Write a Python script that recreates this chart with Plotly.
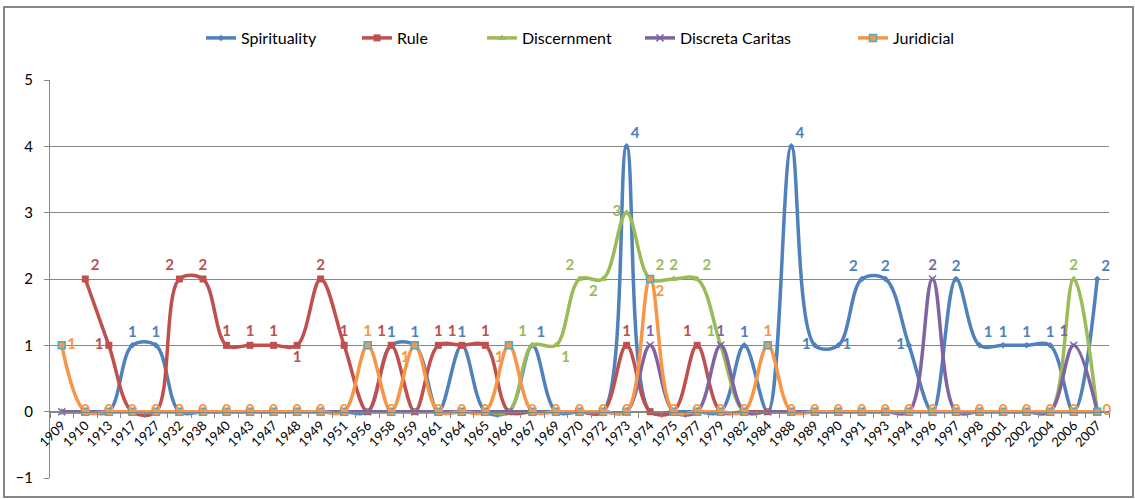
import plotly.graph_objects as go

years = ["1909","1910","1913","1917","1927","1932","1938","1940","1943","1947","1948","1949",
         "1951","1956","1958","1959","1961","1964","1965","1966","1967","1969","1970","1972",
         "1973","1974","1975","1977","1979","1982","1984","1988","1989","1990","1991","1993",
         "1994","1996","1997","1998","2001","2002","2004","2006","2007"]

spirituality = [0,0,0,1,1,0,0,0,0,0,0,0,
                0,0,1,1,0,1,0,0,1,0,0,0,
                4,0,0,0,0,1,0,4,1,1,2,2,
                1,0,2,1,1,1,1,0,2]
rule = [None,2,1,0,0,2,2,1,1,1,1,2,
        1,0,1,0,1,1,1,0,0,0,0,0,
        1,0,0,1,0,0,0,0,0,0,0,0,
        0,0,0,0,0,0,0,0,0]
discernment = [0,0,0,0,0,0,0,0,0,0,0,0,
               0,0,0,0,0,0,0,0,1,1,2,2,
               3,2,2,2,1,0,0,0,0,0,0,0,
               0,0,0,0,0,0,0,2,0]
discreta = [0,0,0,0,0,0,0,0,0,0,0,0,
            0,0,0,0,0,0,0,0,0,0,0,0,
            0,1,0,0,1,0,0,0,0,0,0,0,
            0,2,0,0,0,0,0,1,0]
juridicial = [1,0,0,0,0,0,0,0,0,0,0,0,
              0,1,0,1,0,0,0,1,0,0,0,0,
              0,2,0,0,0,0,1,0,0,0,0,0,
              0,0,0,0,0,0,0,0,0]

BLUE, RED, GREEN, PURPLE, ORANGE, CYAN = "#4F81BD", "#C0504D", "#9BBB59", "#8064A2", "#F79646", "#4BACC6"

# label positions (per year) for non-zero points
pos_spi = {"1917": "top center", "1927": "top center", "1958": "top center", "1959": "top center",
           "1964": "top center", "1967": "top right", "1973": "top right", "1982": "top center",
           "1988": "top right", "1989": "middle left", "1990": "middle right", "1991": "top left",
           "1993": "top center", "1994": "middle left", "1997": "top center", "1998": "top right",
           "2001": "top center", "2002": "top center", "2004": "top center", "2007": "top right"}
pos_rule = {"1910": "top right", "1913": "middle left", "1932": "top left", "1938": "top center",
            "1940": "top center", "1943": "top center", "1947": "top center", "1948": "bottom center",
            "1949": "top center", "1951": "top center", "1958": "top left", "1961": "top center",
            "1964": "top left", "1965": "top center", "1973": "top center", "1977": "top left"}
pos_dis = {"1967": "top left", "1969": "bottom right", "1970": "top left", "1972": "bottom left",
           "1973": "middle left", "1974": "top right", "1975": "top center", "1977": "top right",
           "1979": "top left", "2006": "top center"}
pos_dc = {"1974": "top center", "1979": "top center", "1996": "top center", "2006": "top left"}
pos_jur = {"1909": "middle right", "1956": "top center", "1959": "bottom left", "1966": "bottom left",
           "1974": "bottom right", "1984": "top center"}


def labels(vals, posmap, show_zero=False):
    texts, poss = [], []
    for y, v in zip(years, vals):
        if v is None or (v == 0 and not show_zero):
            texts.append("")
            poss.append("top center")
        else:
            texts.append(str(v))
            poss.append(posmap.get(y, "middle center"))
    return texts, poss


# plot-area geometry in pixels
L, R, T, B = 50, 1109, 80, 478
W, H = R - L, B - T

fig = go.Figure()

series = [
    ("Spirituality", spirituality, BLUE, dict(symbol="diamond", size=5, color=BLUE), pos_spi, False, 205),
    ("Rule", rule, RED, dict(symbol="square", size=7, color=RED), pos_rule, False, 361),
    ("Discernment", discernment, GREEN, dict(symbol="triangle-up", size=7, color=GREEN), pos_dis, False, 486),
    ("Discreta Caritas", discreta, PURPLE, dict(symbol="x-thin", size=7, color=PURPLE,
                                                line=dict(color=PURPLE, width=1.5)), pos_dc, False, 644),
    ("Juridicial", juridicial, ORANGE, dict(symbol="square", size=7, color=ORANGE,
                                            line=dict(color=CYAN, width=1.5)), pos_jur, True, 857),
]

legend_layout = {}
for i, (name, vals, color, marker, pmap, zero, lx) in enumerate(series):
    t, p = labels(vals, pmap, zero)
    if name == "Juridicial":
        p[-1] = "middle right"
    lname = "legend" if i == 0 else f"legend{i + 1}"
    fig.add_trace(go.Scatter(
        x=years, y=vals, name=name, mode="lines+markers+text",
        line=dict(color=color, width=3.5, shape="spline", smoothing=1),
        marker=marker, text=t, textposition=p,
        textfont=dict(family="Lato", size=15, color=color, weight="bold"),
        connectgaps=False, cliponaxis=False, legend=lname,
    ))
    legend_layout[lname] = dict(
        orientation="h", x=(lx - L - 4) / W, xanchor="left",
        y=(B - 38) / H, yanchor="middle",
        font=dict(size=16, family="Lato"), itemwidth=30,
        bgcolor="rgba(0,0,0,0)",
    )

fig.update_layout(
    width=1135, height=499,
    margin=dict(l=L, r=1135 - R, t=T, b=499 - B),
    paper_bgcolor="white", plot_bgcolor="white",
    font=dict(family="Lato", color="#000000"),
    showlegend=True,
    **legend_layout,
)
fig.update_xaxes(
    type="category", categoryorder="array", categoryarray=years,
    range=[-0.5, len(years) - 0.5],
    anchor="free", position=1 / 6,
    showline=True, linecolor="#868686", linewidth=1,
    ticks="outside", tickson="boundaries", ticklen=5, tickcolor="#868686",
    tickangle=-45, tickfont=dict(size=13, family="Lato"),
    showgrid=False, zeroline=False,
)
fig.update_yaxes(
    range=[-1, 5], dtick=1, tick0=0,
    showline=True, linecolor="#868686", linewidth=1,
    ticks="outside", ticklen=5, tickcolor="#868686",
    showgrid=True, gridcolor="#868686", gridwidth=1,
    zeroline=False, tickfont=dict(size=15, family="Lato"),
    ticklabelstandoff=8,
)

# outer chart frame
fig.add_shape(type="rect", xref="paper", yref="paper",
              x0=(4 - L) / W, x1=(1133 - L) / W, y0=(B - 497) / H, y1=(B - 7) / H,
              line=dict(color="#868686", width=2), fillcolor="rgba(0,0,0,0)", layer="below")

fig.write_html("out.html", config={"displayModeBar": False},
               post_script="document.body.style.margin='0';")
